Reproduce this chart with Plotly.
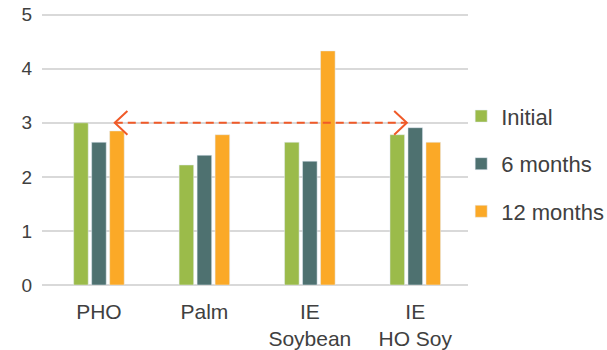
import plotly.graph_objects as go

# Oil samples and measured values at each storage time
categories = ["PHO", "Palm", "IE<br>Soybean", "IE<br>HO Soy"]
initial = [3.00, 2.22, 2.64, 2.78]
six_months = [2.64, 2.40, 2.29, 2.91]
twelve_months = [2.85, 2.78, 4.33, 2.64]
y_ticks = [0, 1, 2, 3, 4, 5]

# Reference level marked by the double-headed dashed arrow
ARROW_Y = 3.0
ARROW_X0 = 0.15
ARROW_X1 = 2.92
HEAD_DX = 0.12
HEAD_DY = 0.22

GREEN = "#9BBB4A"
TEAL = "#4E7170"
ORANGE = "#FBA927"
ARROW = "#F05A28"
TEXT = "#404040"
GRID = "#D9D9D9"
FONT = "Liberation Sans, Arial, sans-serif"

fig = go.Figure()
for name, vals, col in [
    ("Initial", initial, GREEN),
    ("6 months", six_months, TEAL),
    ("12 months", twelve_months, ORANGE),
]:
    fig.add_trace(go.Bar(x=categories, y=vals, name=name, marker_color=col,
                         legendgroup=name))

# dashed shaft
fig.add_shape(type="line", xref="x", yref="y",
              x0=ARROW_X0, x1=ARROW_X1, y0=ARROW_Y, y1=ARROW_Y,
              line=dict(color=ARROW, width=2, dash="8px,5px"))
# open chevron heads at both ends
fig.add_shape(type="path", xref="x", yref="y",
              path=(f"M{ARROW_X0 + HEAD_DX},{ARROW_Y + HEAD_DY} "
                    f"L{ARROW_X0},{ARROW_Y} L{ARROW_X0 + HEAD_DX},{ARROW_Y - HEAD_DY}"),
              line=dict(color=ARROW, width=2))
fig.add_shape(type="path", xref="x", yref="y",
              path=(f"M{ARROW_X1 - HEAD_DX},{ARROW_Y + HEAD_DY} "
                    f"L{ARROW_X1},{ARROW_Y} L{ARROW_X1 - HEAD_DX},{ARROW_Y - HEAD_DY}"),
              line=dict(color=ARROW, width=2))

fig.update_layout(
    width=607, height=350,
    margin=dict(l=42, r=139, t=12, b=65, autoexpand=False),
    paper_bgcolor="white", plot_bgcolor="white",
    barmode="group", bargap=0.488, bargroupgap=0.19,
    font=dict(family=FONT, color=TEXT),
    legend=dict(x=0.984, xanchor="left", y=0.695, yanchor="top",
                font=dict(size=22, color=TEXT, family=FONT),
                tracegroupgap=16, bgcolor="rgba(0,0,0,0)"),
    showlegend=True,
)
fig.update_xaxes(range=[-0.54, 3.5], showgrid=False, showline=False, ticks="",
                 tickfont=dict(size=21, color=TEXT), ticklabelstandoff=12)
fig.update_yaxes(range=[0, 5.05], tickvals=y_ticks, showgrid=True, gridcolor=GRID,
                 gridwidth=1.5, zeroline=True, zerolinecolor=GRID, zerolinewidth=1.5,
                 showline=False, tickfont=dict(size=19, color=TEXT),
                 ticklabelstandoff=9)

fig.write_html("out.html")
